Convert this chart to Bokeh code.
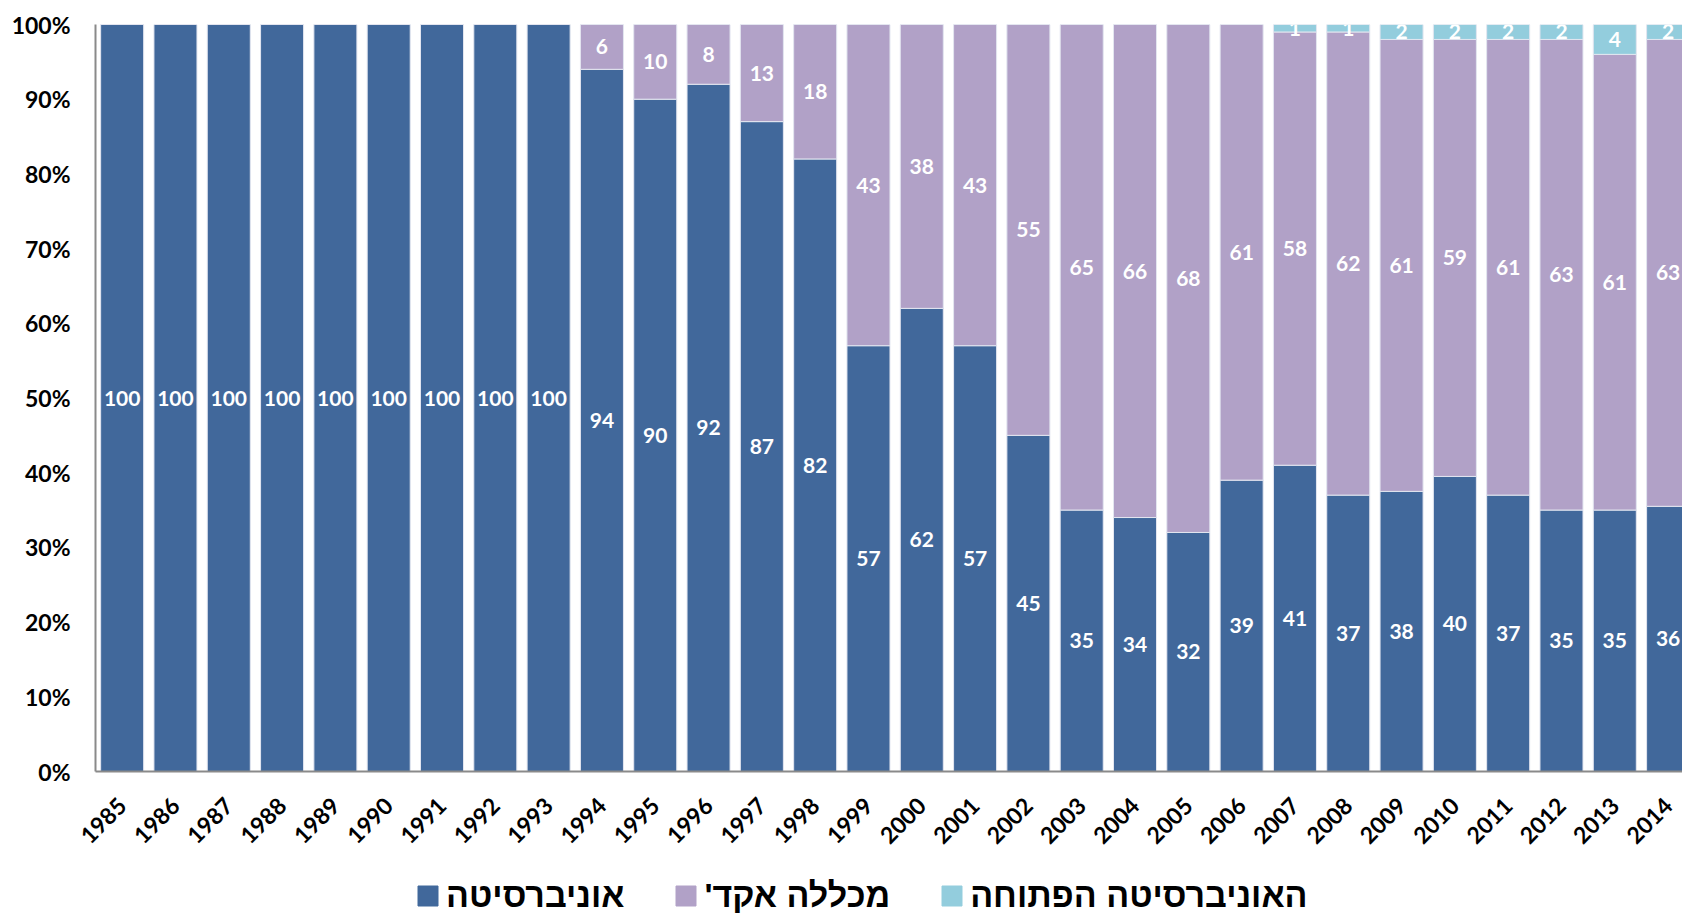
import math
from bokeh.plotting import figure
from bokeh.layouts import column
from bokeh.models import (ColumnDataSource, FixedTicker, Legend, LegendItem, Range1d)
from bokeh.core.properties import value
from bokeh.embed import file_html
from bokeh.resources import INLINE

years = ["1985", "1986", "1987", "1988", "1989", "1990", "1991", "1992", "1993", "1994",
         "1995", "1996", "1997", "1998", "1999", "2000", "2001", "2002", "2003", "2004",
         "2005", "2006", "2007", "2008", "2009", "2010", "2011", "2012", "2013", "2014"]

university = [100, 100, 100, 100, 100, 100, 100, 100, 100, 94,
              90, 92, 87, 82, 57, 62, 57, 45, 35, 34,
              32, 39, 41, 37, 37.5, 39.5, 37, 35, 35, 35.5]
college = [0, 0, 0, 0, 0, 0, 0, 0, 0, 6,
           10, 8, 13, 18, 43, 38, 43, 55, 65, 66,
           68, 61, 58, 62, 60.5, 58.5, 61, 63, 61, 62.5]
open_univ = [0, 0, 0, 0, 0, 0, 0, 0, 0, 0,
             0, 0, 0, 0, 0, 0, 0, 0, 0, 0,
             0, 0, 1, 1, 2, 2, 2, 2, 4, 2]

series_names = ["אוניברסיטה", "מכללה אקד'\u200f", "האוניברסיטה הפתוחה"]
colors = ["#41689B", "#B1A1C7", "#93CDDD"]
y_ticks = [0, 10, 20, 30, 40, 50, 60, 70, 80, 90, 100]

xs = list(range(len(years)))
source = ColumnDataSource(dict(x=xs, uni=university, col=college, opn=open_univ))
stack_cols = ["uni", "col", "opn"]

p = figure(width=1682, height=870, x_range=Range1d(-0.5, 29.27), y_range=Range1d(0, 100),
           output_backend="svg", toolbar_location=None,
           min_border_left=95, min_border_top=24, min_border_bottom=99, min_border_right=0)
p.outline_line_color = None
p.xgrid.visible = False
p.ygrid.visible = False

rs = p.vbar_stack(stack_cols, x="x", width=0.807, color=colors,
                  line_color="#E3E6F0", line_width=1, source=source)

# segment labels
lx, ly, lt = [], [], []
for i in xs:
    base = 0
    for v in (university[i], college[i], open_univ[i]):
        if v > 0:
            lx.append(i)
            ly.append(base + v / 2)
            lt.append(str(int(v + 0.5)))
        base += v
p.text(x=lx, y=ly, text=lt, text_align="center", text_baseline="middle",
       text_color="white", text_font=value("Lato"), text_font_style="bold",
       text_font_size="21px")

# axes
p.yaxis.ticker = FixedTicker(ticks=y_ticks)
p.yaxis.major_label_overrides = {t: f"{t}%" for t in y_ticks}
p.xaxis.ticker = FixedTicker(ticks=xs)
p.xaxis.major_label_overrides = {i: years[i] for i in xs}
p.xaxis.major_label_orientation = math.pi / 4
for ax in (p.xaxis, p.yaxis):
    ax.major_tick_in = 0
    ax.major_tick_out = 0
    ax.minor_tick_in = 0
    ax.minor_tick_out = 0
    ax.axis_line_color = "#8A8A8A"
    ax.axis_line_width = 2
    ax.major_label_text_font = "Lato"
    ax.major_label_text_font_style = "bold"
    ax.major_label_text_color = "black"
p.yaxis.major_label_standoff = 25
p.xaxis.major_label_standoff = 30
p.yaxis.major_label_text_font_size = "23px"
p.xaxis.major_label_text_font_size = "23px"

# legend strip below the chart (its key renderers sit outside the visible range)
q = figure(width=1682, height=45, x_range=Range1d(-100, -99), y_range=Range1d(0, 1),
           output_backend="svg", toolbar_location=None,
           x_axis_location=None, y_axis_location=None,
           min_border_left=0, min_border_right=0, min_border_top=0, min_border_bottom=0)
q.outline_line_color = None
q.xgrid.visible = False
q.ygrid.visible = False
keys = q.vbar_stack(stack_cols, x="x", width=0.807, color=colors, source=source)

legend = Legend(items=[LegendItem(label=series_names[k], renderers=[keys[k]]) for k in range(3)],
                orientation="horizontal", location=(320, 0))
legend.border_line_color = None
legend.background_fill_alpha = 0
legend.padding = 0
legend.margin = 0
legend.glyph_width = 25
legend.glyph_height = 25
legend.label_standoff = 6
legend.spacing = 49
legend.label_text_font = "Liberation Sans"
legend.label_text_font_style = "bold"
legend.label_text_font_size = "34px"
legend.label_text_color = "black"
q.add_layout(legend, "center")

layout = column(p, q, spacing=0)
open("out.html", "w").write(file_html(layout, INLINE))
